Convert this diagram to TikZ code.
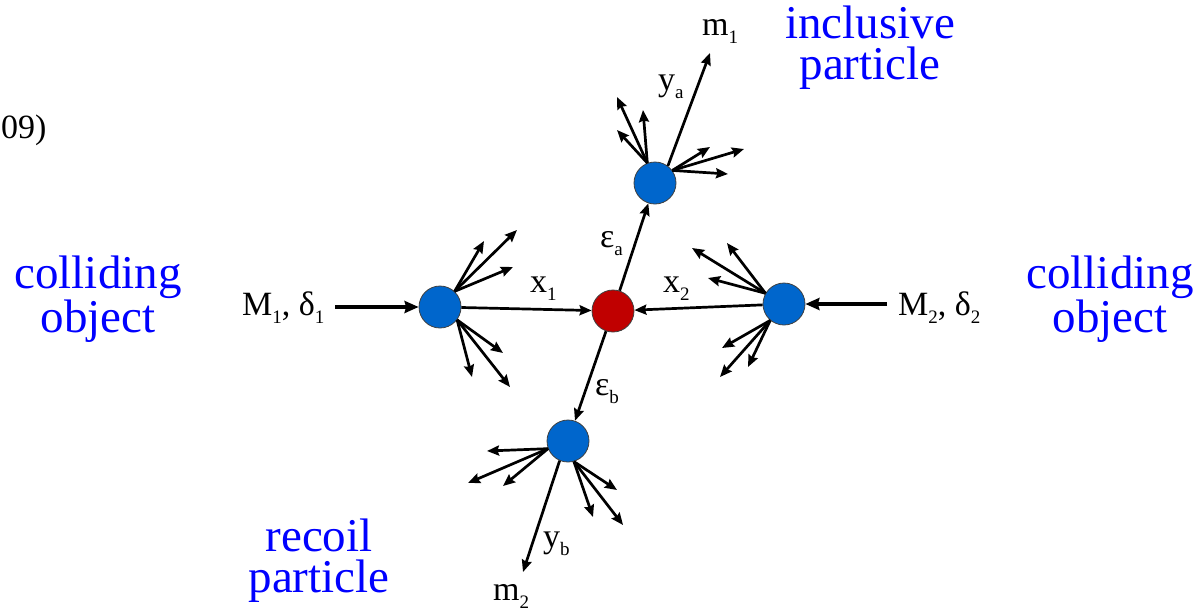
\documentclass[tikz,border=0pt]{standalone}
\usepackage{fontspec}
\setmainfont{Liberation Serif}
\usetikzlibrary{arrows.meta}
\definecolor{nodeblue}{RGB}{0,102,204}
\definecolor{nodered}{RGB}{192,0,0}
\definecolor{txtblue}{RGB}{0,0,255}
\newcommand\lsub[1]{\raisebox{-8pt}{\fontsize{19}{19}\selectfont #1}}
\tikzset{
  blob/.style={circle, draw=black!75, line width=0.8pt, minimum size=42pt, inner sep=0pt, fill=nodeblue},
  core/.style={blob, fill=nodered},
  ray/.style={line width=2.7pt, -{Stealth[length=12pt,width=10pt,inset=1.5pt]}},
  beam/.style={line width=4pt, -{Stealth[length=14pt,width=12pt,inset=1.5pt]}},
  lab/.style={anchor=base west, inner sep=0pt, font=\fontsize{34}{34}\selectfont},
  bluelab/.style={anchor=base, inner sep=0pt, text=txtblue, align=center, font=\fontsize{47}{41}\selectfont},
}
\begin{document}
\begin{tikzpicture}[x=1pt,y=-1pt]
\useasboundingbox (0,0) rectangle (1204,611);
% nodes
\node[blob] (L) at (440,307) {};
\node[core] (C) at (613,311) {};
\node[blob] (R) at (784,304) {};
\node[blob] (T) at (655,183) {};
\node[blob] (B) at (568,441) {};
% incoming beams
\coordinate (in1) at (335,307);
\coordinate (in2) at (887,304);
\draw[beam] (in1) -- (L);
\draw[beam] (in2) -- (R);
% main connectors
\draw[ray] (L) -- (C);
\draw[ray] (R) -- (C);
\draw[ray] (C) -- (T);
\draw[ray] (C) -- (B);
% tips
\coordinate (m1) at (710,53);
\coordinate (m2) at (523,572);
\coordinate (ta) at (617,97);
\coordinate (tb) at (643,110);
\coordinate (tc) at (617,130);
\coordinate (td) at (710,147);
\coordinate (te) at (744,149);
\coordinate (tf) at (728,174);
\coordinate (la) at (517,230);
\coordinate (lb) at (484,241);
\coordinate (lc) at (513,267);
\coordinate (ld) at (503,353);
\coordinate (le) at (472,377);
\coordinate (lf) at (510,387);
\coordinate (ra) at (692,248);
\coordinate (rb) at (727,243);
\coordinate (rc) at (708,278);
\coordinate (rd) at (722,348);
\coordinate (re) at (748,367);
\coordinate (rf) at (720,377);
\coordinate (ba) at (487,451);
\coordinate (bb) at (468,483);
\coordinate (bc) at (503,486);
\coordinate (bd) at (617,490);
\coordinate (be) at (593,517);
\coordinate (bf) at (623,525);
\draw[ray] (T.53) -- (m1);
\foreach \t in {ta,tb,tc} \draw[ray] (T.111) -- (\t);
\foreach \t in {td,te,tf} \draw[ray] (T.36) -- (\t);
\foreach \t in {la,lb,lc} \draw[ray] (L.47) -- (\t);
\foreach \t in {ld,le,lf} \draw[ray] (L.-37) -- (\t);
\foreach \t in {ra,rb,rc} \draw[ray] (R.150) -- (\t);
\foreach \t in {rd,re,rf} \draw[ray] (R.-130) -- (\t);
\foreach \t in {ba,bb,bc} \draw[ray] (B.201) -- (\t);
\foreach \t in {bd,be,bf} \draw[ray] (B.-74) -- (\t);
\draw[ray] (B.-113) -- (m2);
% black labels
\node[lab] (cut) at (1,138) {09)};
\node[lab] (lM1) at (242,315) {M\lsub{1}, δ\lsub{1}};
\node[lab] (lM2) at (898,315) {M\lsub{2}, δ\lsub{2}};
\node[lab] (lx1) at (530,292) {x\lsub{1}};
\node[lab] (lx2) at (663,292) {x\lsub{2}};
\node[lab] (lea) at (600,247) {ε\lsub{a}};
\node[lab] (leb) at (595,395) {ε\lsub{b}};
\node[lab] (lya) at (658,90) {y\lsub{a}};
\node[lab] (lm1) at (702,35) {m\lsub{1}};
\node[lab] (lyb) at (543,547) {y\lsub{b}};
\node[lab] (lm2) at (493,600) {m\lsub{2}};
% blue labels
\node[bluelab] (co1) at (98,332) {colliding\\object};
\node[bluelab] (co2) at (1110,332) {colliding\\object};
\node[bluelab] (inc) at (870,79) {inclusive\\particle};
\node[bluelab] (rec) at (319,592) {recoil\\particle};
\end{tikzpicture}
\end{document}
